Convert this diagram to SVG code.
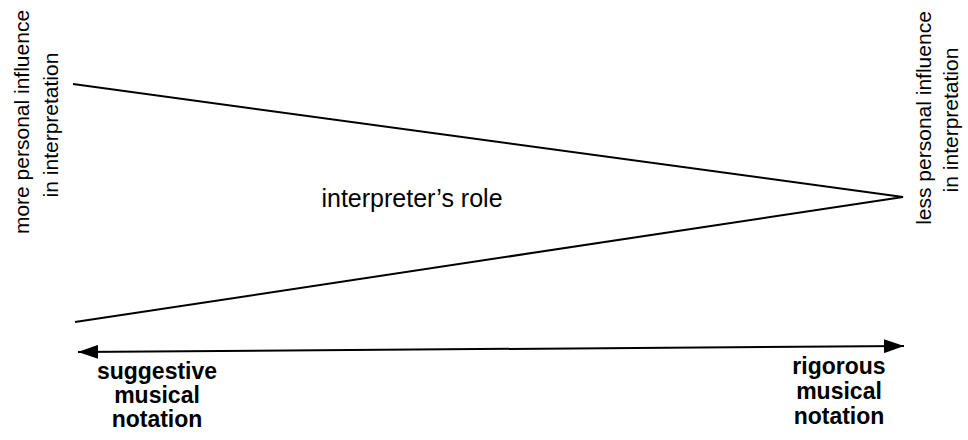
<svg xmlns="http://www.w3.org/2000/svg" width="968" height="440" viewBox="0 0 968 440">
<style>
text{font-family:"Liberation Sans",Arial,sans-serif;fill:#000}
.side{font-size:21px}
.lbl{font-size:23px;font-weight:bold}
.role{font-size:25px}
.ln{stroke:#000;stroke-width:2;fill:none}
</style>
<defs>
<marker id="ah" viewBox="0 0 20 14" refX="20" refY="7" markerWidth="20" markerHeight="14" markerUnits="userSpaceOnUse" orient="auto-start-reverse">
<path d="M0,0 L20,7 L0,14 Z" fill="#000"/>
</marker>
</defs>
<rect width="968" height="440" fill="#fff"/>
<g id="connectors">
<path class="ln" d="M73,84 L903,197 L75,322"/>
<path class="ln" d="M78,352 L904,346" marker-start="url(#ah)" marker-end="url(#ah)"/>
</g>
<g id="left-label">
<text class="side" text-anchor="middle" transform="translate(29,122) rotate(-90)">more personal influence</text>
<text class="side" text-anchor="middle" transform="translate(58,125) rotate(-90)">in interpretation</text>
</g>
<g id="right-label">
<text class="side" text-anchor="middle" transform="translate(931,118) rotate(-90)">less personal influence</text>
<text class="side" text-anchor="middle" transform="translate(958,120) rotate(-90)">in interpretation</text>
</g>
<g id="role">
<text class="role" text-anchor="middle" x="412" y="207">interpreter’s role</text>
</g>
<g id="suggestive">
<text class="lbl" text-anchor="middle" x="157" y="379">suggestive</text>
<text class="lbl" text-anchor="middle" x="157" y="403">musical</text>
<text class="lbl" text-anchor="middle" x="157" y="427">notation</text>
</g>
<g id="rigorous">
<text class="lbl" text-anchor="middle" x="839" y="374">rigorous</text>
<text class="lbl" text-anchor="middle" x="839" y="399">musical</text>
<text class="lbl" text-anchor="middle" x="839" y="424">notation</text>
</g>
</svg>
